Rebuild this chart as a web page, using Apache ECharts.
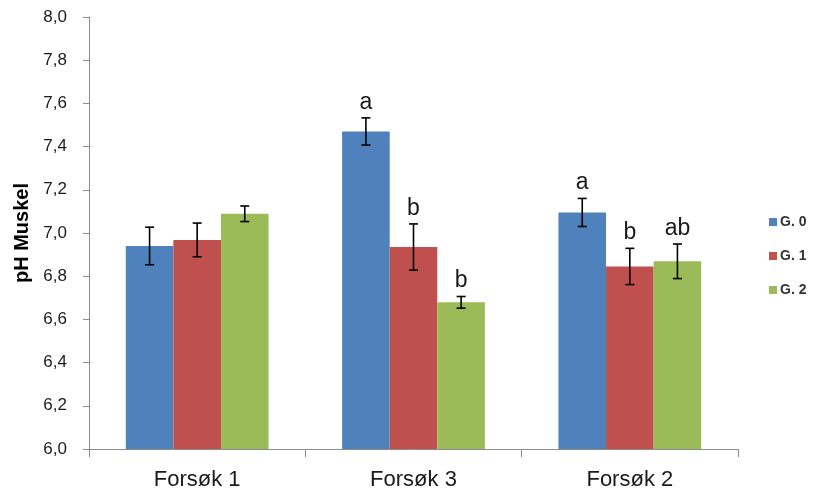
<!DOCTYPE html>
<html>
<head>
<meta charset="utf-8">
<script src="https://cdn.jsdelivr.net/npm/echarts@6/dist/echarts.min.js"></script>
<style>html,body{margin:0;padding:0;background:#fff}#c{width:813px;height:496px}</style>
</head>
<body>
<div id="c"></div>
<script>
const categories = ['Forsøk 1', 'Forsøk 3', 'Forsøk 2'];
const seriesNames = ['G. 0', 'G. 1', 'G. 2'];
const meansG0 = [6.94, 7.47, 7.095];
const meansG1 = [6.968, 6.935, 6.845];
const meansG2 = [7.089, 6.679, 6.869];
const errG0 = [0.087, 0.063, 0.065];
const errG1 = [0.078, 0.107, 0.084];
const errG2 = [0.036, 0.027, 0.080];
const lettersG0 = ['', 'a', 'a'];
const lettersG1 = ['', 'b', 'b'];
const lettersG2 = ['', 'b', 'ab'];
const yTicks = { min: 6.0, max: 8.0, interval: 0.2 };

const means = [meansG0, meansG1, meansG2];
const errs = [errG0, errG1, errG2];
const letters = [lettersG0, lettersG1, lettersG2];
const colors = ['#4F81BD', '#C0504D', '#9BBB59'];
const CAT_GAP = 0.34;
const FONT = '"Liberation Sans", Arial, sans-serif';

const chart = echarts.init(document.getElementById('c'), null, { renderer: 'canvas' });

const barSeries = seriesNames.map((n, i) => ({
  name: n,
  type: 'bar',
  data: means[i],
  barGap: '0%',
  barCategoryGap: (CAT_GAP * 100) + '%',
  itemStyle: { color: colors[i] },
  emphasis: { disabled: true },
  z: 2
}));

const errSeries = seriesNames.map((n, si) => ({
  name: 'err' + si,
  type: 'custom',
  z: 5,
  data: means[si].map((m, k) => [k, m - errs[si][k], m + errs[si][k]]),
  renderItem: function (params, api) {
    const k = api.value(0);
    const lo = api.coord([k, api.value(1)]);
    const hi = api.coord([k, api.value(2)]);
    const band = api.size([1, 0])[0];
    const barW = band * (1 - CAT_GAP) / 3;
    const x = lo[0] + (si - 1) * barW;
    const cap = 4.5;
    const style = { stroke: '#000', lineWidth: 1.6 };
    const children = [
      { type: 'line', shape: { x1: x, y1: lo[1], x2: x, y2: hi[1] }, style: style },
      { type: 'line', shape: { x1: x - cap, y1: lo[1], x2: x + cap, y2: lo[1] }, style: style },
      { type: 'line', shape: { x1: x - cap, y1: hi[1], x2: x + cap, y2: hi[1] }, style: style }
    ];
    const t = letters[si][params.dataIndex];
    if (t) {
      children.push({
        type: 'text',
        style: {
          text: t, x: x, y: hi[1] - 4,
          align: 'center', verticalAlign: 'bottom',
          font: '23px ' + FONT, fill: '#1a1a1a'
        }
      });
    }
    return { type: 'group', children: children };
  }
}));

chart.setOption({
  backgroundColor: '#fff',
  animation: false,
  grid: { left: 89, right: 75, top: 17, bottom: 47, containLabel: false },
  legend: {
    data: seriesNames,
    orient: 'vertical',
    left: 764,
    top: 210,
    itemWidth: 8,
    itemHeight: 8,
    itemGap: 20,
    icon: 'rect',
    textStyle: { fontFamily: FONT, fontSize: 14, fontWeight: 'bold', color: '#333', padding: [0, 0, 0, -2] }
  },
  xAxis: {
    type: 'category',
    data: categories,
    axisLine: { lineStyle: { color: '#8c8c8c', width: 1 } },
    axisTick: { show: true, length: 8, lineStyle: { color: '#8c8c8c' } },
    axisLabel: { fontFamily: FONT, fontSize: 22, color: '#1a1a1a', margin: 20 }
  },
  yAxis: {
    type: 'value',
    min: yTicks.min,
    max: yTicks.max,
    interval: yTicks.interval,
    name: 'pH Muskel',
    nameLocation: 'middle',
    nameGap: 55,
    nameRotate: 90,
    nameTextStyle: { fontFamily: FONT, fontSize: 20, fontWeight: 'bold', color: '#000' },
    axisLine: { show: true, lineStyle: { color: '#8c8c8c', width: 1 } },
    axisTick: { show: true, length: 6, lineStyle: { color: '#8c8c8c' } },
    splitLine: { show: false },
    axisLabel: {
      fontFamily: FONT, fontSize: 17, color: '#1a1a1a', margin: 22,
      formatter: v => v.toFixed(1).replace('.', ',')
    }
  },
  series: barSeries.concat(errSeries)
});
</script>
</body>
</html>
